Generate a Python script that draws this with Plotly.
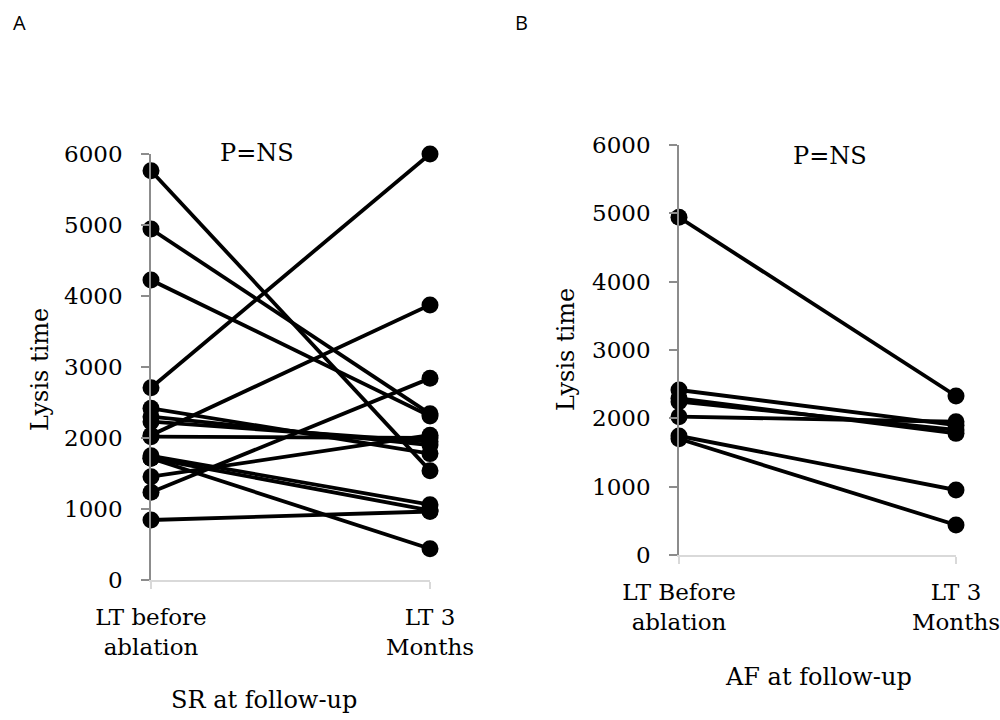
import plotly.graph_objects as go

# Lysis time (s) per patient, before ablation and at 3 months
time_points_sr = ["LT before<br>ablation", "LT 3<br>Months"]
time_points_af = ["LT Before<br>ablation", "LT 3<br>Months"]

sr_before = [5765, 4944, 4225, 2708, 2418, 2300, 2230, 2040, 2018, 1750, 1714, 1714, 1455, 1235, 845]
sr_after = [1540, 2340, 2310, 6000, 1780, 1900, 1950, 3873, 2000, 1060, 980, 440, 2040, 2840, 965]

af_before = [4942, 2415, 2293, 2244, 2024, 1742, 1700]
af_after = [2327, 1900, 1780, 1830, 1950, 951, 439]

y_ticks = [0, 1000, 2000, 3000, 4000, 5000, 6000]

FONT = "DejaVu Serif"
LINE_W = 3.8
DOT = 17

fig = go.Figure()


def add_pairs(before, after, cats, xa, ya):
    for b, a in zip(before, after):
        fig.add_trace(go.Scatter(
            x=cats, y=[b, a], mode="lines+markers",
            line=dict(color="black", width=LINE_W),
            marker=dict(color="black", size=DOT),
            cliponaxis=False, showlegend=False, hoverinfo="y",
            xaxis=xa, yaxis=ya,
        ))


add_pairs(sr_before, sr_after, time_points_sr, "x", "y")
add_pairs(af_before, af_after, time_points_af, "x2", "y2")

xcommon = dict(
    type="category", range=[0, 1], showgrid=False, zeroline=False,
    showline=True, linecolor="#d9d9d9", linewidth=1.5,
    ticks="outside", ticklen=7, tickcolor="#d9d9d9", tickwidth=1.5,
    tickfont=dict(family=FONT, size=23, color="black"),
    ticklabelstandoff=9, fixedrange=True, automargin=False,
)
ycommon = dict(
    range=[0, 6000], tickvals=y_ticks, showgrid=False, zeroline=False,
    showline=True, linecolor="#8c8c8c", linewidth=1.5,
    ticks="outside", ticklen=8, tickcolor="#8c8c8c", tickwidth=1.5,
    tickfont=dict(family=FONT, size=23, color="black"),
    ticklabelstandoff=14, fixedrange=True, automargin=False,
)

fig.update_layout(
    width=1000, height=720,
    margin=dict(l=0, r=0, t=0, b=0),
    paper_bgcolor="white", plot_bgcolor="white",
    xaxis=dict(domain=[0.151, 0.430], anchor="y", **xcommon),
    yaxis=dict(domain=[1 - 580 / 720, 1 - 154 / 720], anchor="x", **ycommon),
    xaxis2=dict(domain=[0.679, 0.956], anchor="y2", **xcommon),
    yaxis2=dict(domain=[1 - 555 / 720, 1 - 145 / 720], anchor="x2", **ycommon),
)

def note(text, x, y, size=24, family=FONT, angle=0):
    fig.add_annotation(
        text=text, x=x / 1000, y=1 - y / 720, xref="paper", yref="paper",
        showarrow=False, textangle=angle, xanchor="center", yanchor="middle",
        font=dict(family=family, size=size, color="black"),
    )

note("A", 19, 22, size=20, family="Open Sans")
note("B", 521, 22, size=20, family="Open Sans")
note("P=NS", 257, 153)
note("P=NS", 830, 156)
note("Lysis time", 40, 370, angle=-90)
note("Lysis time", 566, 350, angle=-90)
note("SR at follow-up", 264, 700)
note("AF at follow-up", 818, 677)

fig.write_html("out.html")
